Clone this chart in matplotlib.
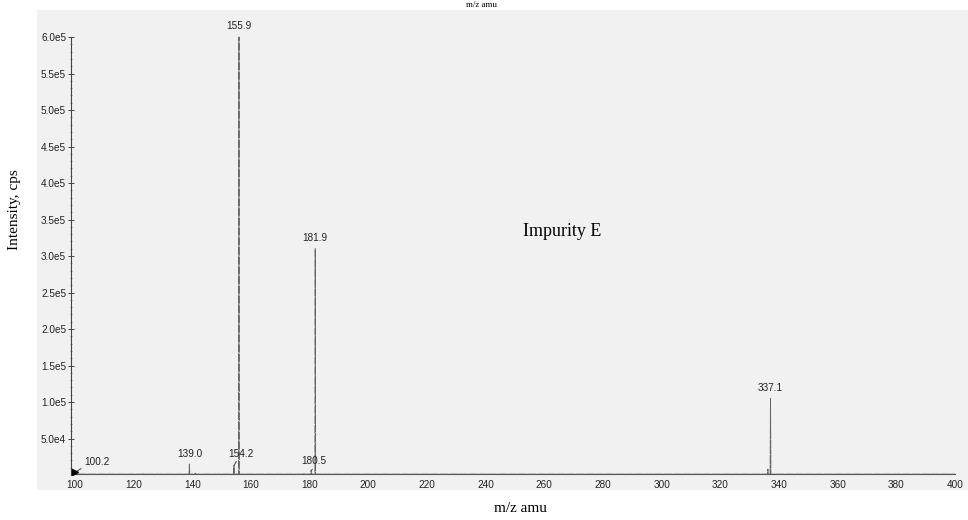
import matplotlib.pyplot as plt
import matplotlib.patches as mpatches
from matplotlib.ticker import FuncFormatter, FixedLocator
import numpy as np

# stick peaks (m/z, intensity in cps)
peak_mz = [100.2, 123.5, 139.0, 141.0, 154.2, 155.9, 178.0, 180.5, 181.9, 336.2, 337.1]
peak_int = [4000, 1800, 15000, 2500, 13000, 600000, 2000, 6000, 310000, 8000, 105000]

# labelled peaks and where the label sits (offset in points)
label_mz = [100.2, 139.0, 154.2, 155.9, 180.5, 181.9, 337.1]
label_int = [4000, 15000, 13000, 600000, 6000, 310000, 105000]
label_text = ['100.2', '139.0', '154.2', '155.9', '180.5', '181.9', '337.1']
label_dx = [6, 0, -4.3, 0, -7, 0, 0]
label_dy = [4, 4, 5, 4, 3, 4, 4]
label_relx = [0.05, 0.5, 0.4, 0.5, 0.55, 0.5, 0.5]
label_leader = [True, False, True, False, True, False, False]

# low baseline noise level
baseline_level = 1200

x_ticks = list(range(100, 401, 20))
y_ticks = [5.0e4, 1.0e5, 1.5e5, 2.0e5, 2.5e5, 3.0e5, 3.5e5, 4.0e5, 4.5e5, 5.0e5, 5.5e5, 6.0e5]
y_minor = list(range(10000, 600001, 10000))

fig = plt.figure(figsize=(9.68, 5.2), dpi=100)
fig.patch.set_facecolor('white')

# grey scanned panel
W, H = 968, 520
fig.patches.append(mpatches.Rectangle((37 / W, 1 - 490 / H), (968 - 37) / W, (490 - 10) / H,
                                      transform=fig.transFigure, facecolor='#f1f1f1',
                                      edgecolor='none', zorder=-5))

ax = fig.add_axes([71 / W, 1 - 477 / H, (960 - 71) / W, (477 - 10) / H])
ax.set_facecolor('none')
ax.set_zorder(2)

# profile built from the stick list: narrow spikes over a flat baseline
xs = [98.8]
ys = [baseline_level]
for mz, inten in sorted(zip(peak_mz, peak_int)):
    xs += [mz - 0.12, mz, mz + 0.12]
    ys += [baseline_level, inten, baseline_level]
xs.append(400.0)
ys.append(baseline_level)
ax.plot(xs, ys, color='#666666', lw=0.7, linestyle=(0, (9, 1.0)), zorder=3)
ax.plot([100, 400], [baseline_level, baseline_level], color='#444444', lw=0.8, zorder=2)

for mz, inten, txt, dx, dy, rx, lead in zip(label_mz, label_int, label_text, label_dx,
                                             label_dy, label_relx, label_leader):
    if lead:
        ax.annotate(txt, xy=(mz, inten), xytext=(dx, dy), textcoords='offset points',
                    ha='left', va='bottom',
                    fontsize=7.2, family='Liberation Sans', color='#222222',
                    arrowprops=dict(arrowstyle='-', color='#444444', lw=0.7,
                                    shrinkA=0, shrinkB=0, relpos=(rx, 0.05)))
    else:
        ax.annotate(txt, xy=(mz, inten), xytext=(dx, dy), textcoords='offset points',
                    ha='center', va='bottom', fontsize=7.2, family='Liberation Sans',
                    color='#222222')

# start marker
ax.plot([100], [3500], marker='>', color='black', markersize=5, zorder=4)

ax.set_xlim(98.64, 401.7)
ax.set_ylim(-2700, 6.37e5)

ax.spines['top'].set_visible(False)
ax.spines['right'].set_visible(False)
ax.spines['bottom'].set_visible(False)
ax.spines['left'].set_bounds(0, 6.0e5)
ax.spines['left'].set_color('#444444')
ax.spines['left'].set_linewidth(0.8)
ax.spines['left'].set_linestyle((0, (6, 1)))

ax.set_xticks(x_ticks)
ax.set_yticks(y_ticks)
ax.yaxis.set_minor_locator(FixedLocator(y_minor))
ax.yaxis.set_major_formatter(FuncFormatter(
    lambda v, p: '{:.1f}e{}'.format(v / 10 ** int(np.floor(np.log10(v))), int(np.floor(np.log10(v))))))
ax.tick_params(axis='x', length=0, pad=2, labelsize=7.2, labelcolor='#222222')
ax.tick_params(axis='y', which='major', direction='inout', length=5, width=0.7, color='#444444',
               labelsize=7.2, labelcolor='#222222', pad=1)
ax.tick_params(axis='y', which='minor', direction='inout', length=2, width=0.5, color='#666666')
for lab in ax.get_xticklabels() + ax.get_yticklabels():
    lab.set_family('Liberation Sans')

fig.text(15 / W, 1 - 210 / H, 'Intensity, cps', rotation=90, ha='center', va='center',
         family='Liberation Serif', fontsize=11)
fig.text(520 / W, 1 - 508 / H, 'm/z amu', ha='center', va='center',
         family='Liberation Serif', fontsize=11)
fig.text(482 / W, 1 - 1 / H, 'm/z amu', ha='center', va='top',
         family='Liberation Serif', fontsize=6.5)
fig.text(562 / W, 1 - 232 / H, 'Impurity E', ha='center', va='center',
         family='Liberation Serif', fontsize=13)

fig.savefig('out.png', dpi=100)
